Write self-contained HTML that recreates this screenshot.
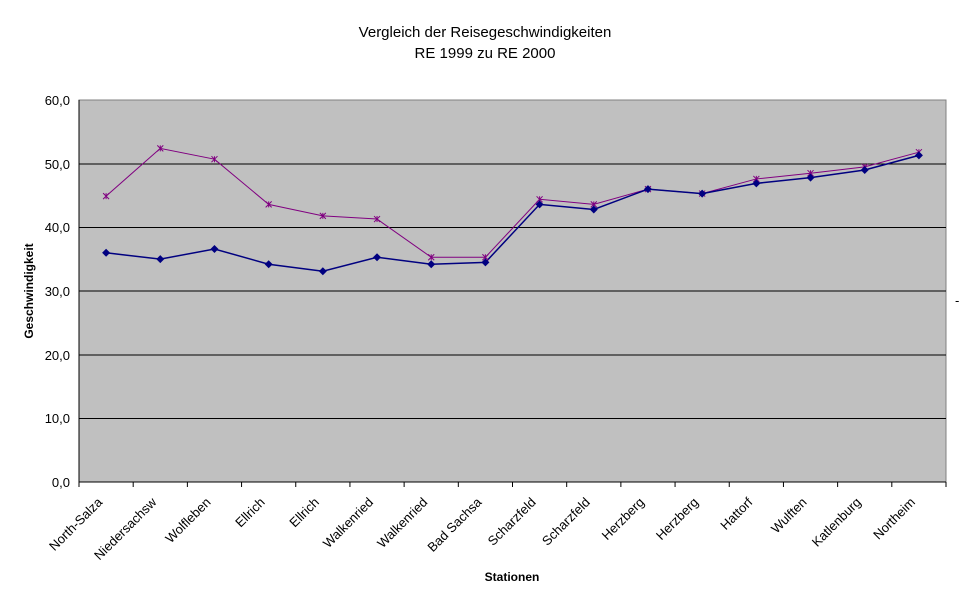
<!DOCTYPE html>
<html><head><meta charset="utf-8"><style>body{margin:0;background:#fff}svg{display:block}text{font-family:"Liberation Sans",Arial,sans-serif}</style></head><body>
<svg width="970" height="604" xmlns="http://www.w3.org/2000/svg">
<text x="485" y="37" font-size="15" text-anchor="middle">Vergleich der Reisegeschwindigkeiten</text>
<text x="485" y="58" font-size="15" text-anchor="middle">RE 1999 zu RE 2000</text>
<rect x="79" y="100" width="867" height="382" fill="#c0c0c0" stroke="#808080"/>
<g stroke="#000" stroke-width="1">
<line x1="79" y1="164" x2="946" y2="164"/><line x1="79" y1="227.5" x2="946" y2="227.5"/><line x1="79" y1="291" x2="946" y2="291"/><line x1="79" y1="355" x2="946" y2="355"/><line x1="79" y1="418.5" x2="946" y2="418.5"/>
<line x1="79" y1="100" x2="79" y2="482"/><line x1="79" y1="482" x2="946" y2="482"/>
</g>
<g stroke="#000" id="ticks"></g>
<g font-size="13" text-anchor="end">
<text x="70" y="105">60,0</text><text x="70" y="169">50,0</text><text x="70" y="232">40,0</text><text x="70" y="296">30,0</text><text x="70" y="360">20,0</text><text x="70" y="423">10,0</text><text x="70" y="487">0,0</text>
</g>
<text transform="translate(33,291) rotate(-90)" font-size="12" font-weight="bold" text-anchor="middle">Geschwindigkeit</text>
<text x="512" y="581" font-size="12" font-weight="bold" text-anchor="middle">Stationen</text>
<text x="955" y="305" font-size="13">-</text>
<g id="labels" font-size="13" text-anchor="end"></g>
<polyline id="p2" fill="none" stroke="#800080" stroke-width="1"/>
<polyline id="p1" fill="none" stroke="#000080" stroke-width="1.5"/>
<g id="m"></g>
</svg>
<script>
const names=["North-Salza","Niedersachsw","Wolfleben","Ellrich","Ellrich","Walkenried","Walkenried","Bad Sachsa","Scharzfeld","Scharzfeld","Herzberg","Herzberg","Hattorf","Wulften","Katlenburg","Northeim"];
const a=[36.0,35.0,36.6,34.2,33.1,35.3,34.2,34.5,43.6,42.8,46.0,45.3,46.9,47.8,49.0,51.3];
const b=[44.9,52.4,50.7,43.6,41.8,41.3,35.3,35.3,44.4,43.6,46.0,45.3,47.6,48.5,49.5,51.8];
const w=867/16,X=i=>79+w*(i+0.5),Y=v=>482-v*6.367;
let t="",l="",m="";
for(let i=0;i<=16;i++){const x=79+w*i;t+=`<line x1="${x}" y1="482" x2="${x}" y2="487"/>`;}
names.forEach((n,i)=>{const x=X(i)-3,y=503;l+=`<text transform="translate(${x},${y}) rotate(-45)">${n}</text>`;});
b.forEach((v,i)=>{const x=X(i),y=Y(v);m+=`<path d="M${x-3} ${y-3}L${x+3} ${y+3}M${x-3} ${y+3}L${x+3} ${y-3}M${x} ${y-3}V${y+3}" stroke="#800080"/>`;});
a.forEach((v,i)=>{const x=X(i),y=Y(v);m+=`<path d="M${x} ${y-4}L${x+4} ${y}L${x} ${y+4}L${x-4} ${y}Z" fill="#000080"/>`;});
document.getElementById("ticks").innerHTML=t;
document.getElementById("labels").innerHTML=l;
document.getElementById("m").innerHTML=m;
document.getElementById("p1").setAttribute("points",a.map((v,i)=>X(i)+","+Y(v)).join(" "));
document.getElementById("p2").setAttribute("points",b.map((v,i)=>X(i)+","+Y(v)).join(" "));
</script>
</body></html>
